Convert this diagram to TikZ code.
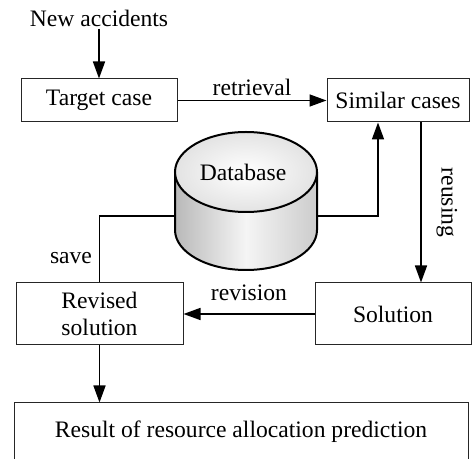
\documentclass[tikz,border=0pt]{standalone}
\usepackage{fontspec}
\setmainfont{Liberation Serif}
\usetikzlibrary{arrows.meta}

\tikzset{
  box/.style={draw=black!85, line width=0.5pt, fill=white, inner sep=0pt, align=center},
  flow/.style={line width=0.8pt, -{Triangle[length=8.5pt,width=6pt]}},
  tag/.style={inner sep=1pt}
}

\begin{document}
\begin{tikzpicture}[x=0.5pt,y=0.5pt,font=\fontsize{11.8}{13.5}\selectfont]
        \useasboundingbox (0,0) rectangle (472,-459);

        % Draw the boxes
        \node[tag] (new) at (99,-18) {New accidents};
        \node[box, minimum width=78pt, minimum height=21.5pt] (target) at (99,-100.5) {Target case};
        \node[box, minimum width=71pt, minimum height=21.5pt] (similar) at (398,-100.5) {Similar cases};
        \node[box, minimum width=83.5pt, minimum height=31pt] (revised) at (99.5,-314) {Revised\\solution};
        \node[box, minimum width=78pt, minimum height=31pt] (solution) at (393,-314) {Solution};
        \node[box, minimum width=227pt, minimum height=32pt] (result) at (241,-435) {};
        \node[tag] at (241,-432) {Result of resource allocation prediction};

        % Draw the database
        \shade[left color=gray!55, right color=gray!40, middle color=gray!8]
          (175,-172) -- (175,-230) arc[start angle=180, end angle=360, x radius=71, y radius=40]
          -- (317,-172) -- cycle;
        \draw[line width=1pt] (175,-172) -- (175,-230)
          arc[start angle=180, end angle=360, x radius=71, y radius=40] -- (317,-172);
        \shade[inner color=white, outer color=gray!22] (246,-172) ellipse[x radius=71, y radius=40];
        \draw[line width=1pt] (246,-172) ellipse[x radius=71, y radius=40];
        \node[tag] (db) at (243,-172) {Database};
        \coordinate (dbL) at (175,-216);
        \coordinate (dbR) at (317,-216);

        % Add the connectors
        \draw[flow] (new) -- (target);
        \draw[flow] (target) -- node[above, tag, yshift=1pt] {retrieval} (similar);
        \draw[flow] (dbR) -| ([xshift=-10pt]similar.south);
        \draw[flow] ([xshift=11.5pt]similar.south) -- ([xshift=11.5pt]similar.south |- solution.north)
          node[midway, right, rotate=-90, anchor=south, xshift=0pt, yshift=4pt] {reusing};
        \draw[flow] (solution.west) -- node[above, tag, yshift=5pt] {revision} (revised.east);
        \draw[line width=0.8pt] (dbL) -| (revised.north);
        \node[tag] at (71,-258) {save};
        \draw[flow] (revised.south) -- (revised.south |- result.north);
\end{tikzpicture}
\end{document}
